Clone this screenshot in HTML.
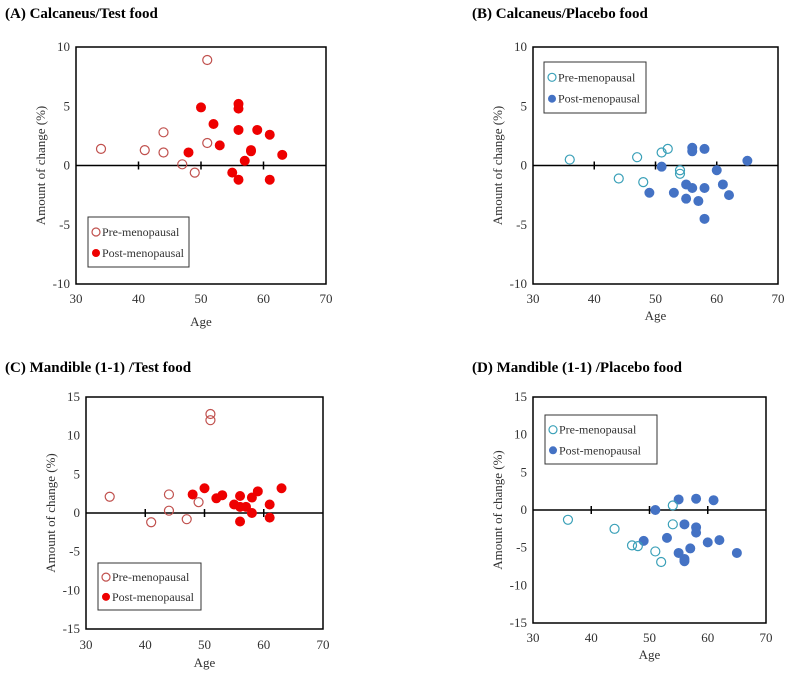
<!DOCTYPE html>
<html><head><meta charset="utf-8"><style>
body{margin:0;background:#fff;width:789px;height:673px;overflow:hidden;font-family:"Liberation Serif",serif}
svg{display:block}
</style></head><body>
<svg id="fig" width="789" height="673" xmlns="http://www.w3.org/2000/svg"></svg>
<script>
const xTicks=[30,40,50,60,70];
const yTicksAB=[-10,-5,0,5,10];
const yTicksCD=[-15,-10,-5,0,5,10,15];
const aPreX=[34,41,44,44,47,49,51,51];
const aPreY=[1.4,1.3,2.8,1.1,0.1,-0.6,8.9,1.9];
const aPostX=[48,50,52,53,55,56,56,56,56,57,58,58,59,61,61,63];
const aPostY=[1.1,4.9,3.5,1.7,-0.6,5.2,4.8,3.0,-1.2,0.4,1.2,1.3,3.0,2.6,-1.2,0.9];
const bPreX=[36,44,47,48,51,52,54,54];
const bPreY=[0.5,-1.1,0.7,-1.4,1.1,1.4,-0.4,-0.7];
const bPostX=[49,51,53,55,55,56,56,56,57,58,58,58,60,61,62,65];
const bPostY=[-2.3,-0.1,-2.3,-1.6,-2.8,1.5,1.2,-1.9,-3.0,1.4,-1.9,-4.5,-0.4,-1.6,-2.5,0.4];
const cPreX=[34,41,44,44,47,49,51,51];
const cPreY=[2.1,-1.2,2.4,0.3,-0.8,1.4,12.8,12.0];
const cPostX=[48,50,52,53,55,56,56,56,57,58,58,59,61,61,63];
const cPostY=[2.4,3.2,1.9,2.3,1.1,2.2,0.8,-1.1,0.8,2.0,0.0,2.8,1.1,-0.6,3.2];
const dPreX=[36,44,47,48,51,52,54,54];
const dPreY=[-1.3,-2.5,-4.7,-4.8,-5.5,-6.9,0.6,-1.9];
const dPostX=[49,51,53,55,55,56,56,56,57,58,58,58,60,61,62,65];
const dPostY=[-4.1,0,-3.7,1.4,-5.7,-1.9,-6.5,-6.8,-5.1,1.5,-2.3,-3.0,-4.3,1.3,-4.0,-5.7];

const NS="http://www.w3.org/2000/svg";
const svg=document.getElementById('fig');
function mk(tag,attrs,parent,text){const e=document.createElementNS(NS,tag);for(const k in attrs)e.setAttribute(k,attrs[k]);if(text!==undefined)e.textContent=text;(parent||svg).appendChild(e);return e;}

function panel(p){
  const g=mk('g',{});
  
  
  const t=mk('text',{x:p.tx,y:p.ty,'font-size':15,'font-weight':'bold',fill:'#000'},g,p.title);
  
  
  const L=p.l,R=p.r,T=p.t,B=p.b,ymin=p.yt[0],ymax=p.yt[p.yt.length-1];
  const sx=v=>L+(v-30)/40*(R-L);
  const sy=v=>B-(v-ymin)/(ymax-ymin)*(B-T);
  const box=mk('rect',{x:L,y:T,width:R-L,height:B-T,fill:'none',stroke:'#000','stroke-width':1.5},g);
  
  
  const zl=mk('line',{x1:L,x2:R,y1:sy(0),y2:sy(0),stroke:'#000','stroke-width':1.5},g);
  
  
  xTicks.forEach(v=>{
    if(v>30&&v<70){const tk=mk('line',{x1:sx(v),x2:sx(v),y1:sy(0)-4,y2:sy(0)+4,stroke:'#000','stroke-width':1.5},g);
      
      }
    const tl=mk('text',{x:sx(v),y:p.xly,'font-size':13,'text-anchor':'middle',fill:'#333'},g,String(v));
    
    
  });
  p.yt.forEach(v=>{
    const tl=mk('text',{x:L-6,y:sy(v)+4,'font-size':13,'text-anchor':'end',fill:'#333'},g,String(v));
    
    
  });
  const yt=mk('text',{x:0,y:0,'font-size':13,'text-anchor':'middle',fill:'#333',transform:`translate(${L-31},${(T+B)/2}) rotate(-90)`},g,'Amount of change (%)');
  
  
  const xt=mk('text',{x:(L+R)/2,y:p.agey,'font-size':13,'text-anchor':'middle',fill:'#333'},g,'Age');
  
  
  p.postX.forEach((x,i)=>{
    const c=mk('circle',{cx:sx(x),cy:sy(p.postY[i]),r:4.5,fill:p.fill,stroke:p.fill},g);
    
    
  });
  p.preX.forEach((x,i)=>{
    const c=mk('circle',{cx:sx(x),cy:sy(p.preY[i]),r:4.5,fill:'none',stroke:p.open,'stroke-width':1.2},g);
    
    
  });
  const lg=mk('g',{},g);
  
  
  const [lx,ly,lw,lh]=p.leg;
  mk('rect',{x:lx,y:ly,width:lw,height:lh,fill:'#fff',stroke:'#333','stroke-width':1},lg);
  const e1=mk('circle',{cx:lx+8,cy:ly+lh*0.3,r:4,fill:'none',stroke:p.open,'stroke-width':1.2},lg);
  
  
  const l1=mk('text',{x:lx+14,y:ly+lh*0.3+4,'font-size':12,fill:'#333'},lg,'Pre-menopausal');
  
  
  const e2=mk('circle',{cx:lx+8,cy:ly+lh*0.72,r:4,fill:p.fill},lg);
  
  
  const l2=mk('text',{x:lx+14,y:ly+lh*0.72+4,'font-size':12,fill:'#333'},lg,'Post-menopausal');
  
  
}
const RED='#ee0000',ROPEN='#c0504d',BLUE='#4472c4',BOPEN='#3aa0b8';
panel({id:'a',title:'(A) Calcaneus/Test food',tx:5,ty:18,l:76,r:326,t:47,b:284,yt:yTicksAB,xly:303,agey:326,preX:aPreX,preY:aPreY,postX:aPostX,postY:aPostY,fill:RED,open:ROPEN,leg:[88,217,101,50]});
panel({id:'b',title:'(B) Calcaneus/Placebo food',tx:472,ty:18,l:533,r:778,t:47,b:284,yt:yTicksAB,xly:303,agey:320,preX:bPreX,preY:bPreY,postX:bPostX,postY:bPostY,fill:BLUE,open:BOPEN,leg:[544,62,102,51]});
panel({id:'c',title:'(C) Mandible (1-1) /Test food',tx:5,ty:372,l:86,r:323,t:397,b:629,yt:yTicksCD,xly:649,agey:667,preX:cPreX,preY:cPreY,postX:cPostX,postY:cPostY,fill:RED,open:ROPEN,leg:[98,563,103,47]});
panel({id:'d',title:'(D) Mandible (1-1) /Placebo food',tx:472,ty:372,l:533,r:766,t:397,b:623,yt:yTicksCD,xly:642,agey:659,preX:dPreX,preY:dPreY,postX:dPostX,postY:dPostY,fill:BLUE,open:BOPEN,leg:[545,415,112,49]});
</script>
</body></html>
